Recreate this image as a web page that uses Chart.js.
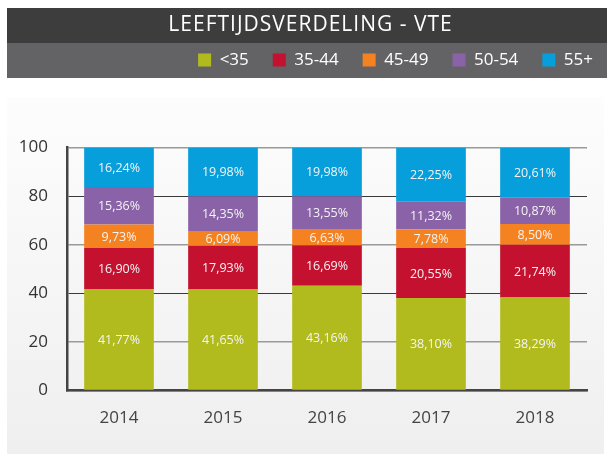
<!DOCTYPE html>
<html>
<head>
<meta charset="utf-8">
<script src="https://cdn.jsdelivr.net/npm/chart.js@4.4.1/dist/chart.umd.min.js"></script>
<style>
  html, body { margin: 0; padding: 0; background: #fff; }
  #wrap { width: 607px; height: 454px; }
</style>
</head>
<body>
<div id="wrap"><canvas id="ageChart"></canvas></div>
<script>
// data (percent of VTE per age group)
const years = ['2014', '2015', '2016', '2017', '2018'];
const groups = ['<35', '35-44', '45-49', '50-54', '55+'];
const under35 = [41.77, 41.65, 43.16, 38.10, 38.29];
const age35to44 = [16.90, 17.93, 16.69, 20.55, 21.74];
const age45to49 = [9.73, 6.09, 6.63, 7.78, 8.50];
const age50to54 = [15.36, 14.35, 13.55, 11.32, 10.87];
const over55 = [16.24, 19.98, 19.98, 22.25, 20.61];
const yTicks = [0, 20, 40, 60, 80, 100];

const colors = ['#b1bb1e', '#c4112f', '#f58220', '#8a62a8', '#069fdb'];
const series = [under35, age35to44, age45to49, age50to54, over55];

// header bars + gray panel behind the chart
const backdrop = {
  id: 'backdrop',
  afterInit(chart) {
    // a bit of letter spacing on the title only
    let tb = chart.titleBlock;
    let origDraw = tb.draw.bind(tb);
    tb.draw = function () {
      chart.ctx.save();
      chart.ctx.letterSpacing = '1px';
      origDraw();
      chart.ctx.restore();
    };
  },
  afterLayout(chart) {
    // put legend items inside the gray bar, right aligned
    let lg = chart.legend;
    let dx = 617 - lg.right;
    lg.left += dx; lg.right += dx;
    let dy = 27.5 - lg.top;
    lg.top += dy; lg.bottom += dy;
    let tb = chart.titleBlock;
    tb.left += 17; tb.right += 17;
  },
  beforeDraw(chart) {
    let ctx = chart.ctx;
    ctx.save();
    ctx.fillStyle = '#3d3d3d';
    ctx.fillRect(7, 8, 600, 35);
    ctx.fillStyle = '#636365';
    ctx.fillRect(7, 43, 600, 35);
    let g = ctx.createLinearGradient(0, 97, 0, 454);
    g.addColorStop(0, '#fdfdfd');
    g.addColorStop(1, '#efefef');
    ctx.fillStyle = g;
    ctx.fillRect(7, 97, 597, 357);
    ctx.restore();
  }
};

// percentage labels in the middle of every segment
const segmentLabels = {
  id: 'segmentLabels',
  afterDatasetsDraw(chart) {
    let ctx = chart.ctx;
    ctx.save();
    ctx.font = '12.5px "Open Sans"';
    ctx.fillStyle = '#f4f4f4';
    ctx.textAlign = 'center';
    ctx.textBaseline = 'middle';
    chart.data.datasets.forEach(function (ds, i) {
      chart.getDatasetMeta(i).data.forEach(function (bar, j) {
        let p = bar.getProps(['x', 'y', 'base'], true);
        let txt = ds.data[j].toFixed(2).replace('.', ',') + '%';
        ctx.fillText(txt, p.x, (p.y + p.base) / 2 + 1);
      });
    });
    ctx.restore();
  }
};

let ageCanvas = document.getElementById('ageChart');
let ageChart = new Chart(ageCanvas, {
  type: 'bar',
  data: {
    labels: years,
    datasets: groups.map(function (g, i) {
      return {
        label: g,
        data: series[i],
        backgroundColor: colors[i],
        borderWidth: 0,
        categoryPercentage: 1,
        barPercentage: 0.67
      };
    })
  },
  options: {
    responsive: true,
    maintainAspectRatio: false,
    animation: false,
    layout: { padding: { left: 0, right: 20, top: 0, bottom: 9 } },
    plugins: {
      title: {
        display: true,
        text: 'LEEFTIJDSVERDELING - VTE',
        color: '#ffffff',
        font: { family: 'Open Sans', size: 21, weight: 'normal', lineHeight: 1.2 },
        padding: { top: 12.9, bottom: 58.5 }
      },
      legend: {
        display: true,
        position: 'top',
        align: 'end',
        labels: {
          color: '#ffffff',
          font: { family: 'Open Sans', size: 17 },
          boxWidth: 13,
          boxHeight: 13,
          padding: 24
        }
      },
      tooltip: { enabled: false }
    },
    scales: {
      x: {
        stacked: true,
        grid: { display: false, drawTicks: false },
        border: { display: true, color: '#444444', width: 2.5 },
        ticks: { color: '#444444', font: { family: 'Open Sans', size: 17 }, padding: 17 }
      },
      y: {
        stacked: true,
        min: 0,
        max: 100,
        afterBuildTicks: function (scale) {
          scale.ticks = yTicks.map(function (v) { return { value: v }; });
        },
        afterFit: function (scale) { scale.width = 67; },
        grid: {
          drawTicks: false,
          color: function (c) {
            let v = c.tick ? c.tick.value : 0;
            return (v === 40 || v === 80) ? '#3a3a3a' : '#9a9a9a';
          },
          lineWidth: function (c) {
            let v = c.tick ? c.tick.value : 0;
            return (v === 40 || v === 80) ? 1 : 1.5;
          }
        },
        border: { display: true, color: '#444444', width: 2.5 },
        ticks: { color: '#333333', font: { family: 'Open Sans', size: 17 }, padding: 19 }
      }
    }
  },
  plugins: [backdrop, segmentLabels]
});
</script>
</body>
</html>
